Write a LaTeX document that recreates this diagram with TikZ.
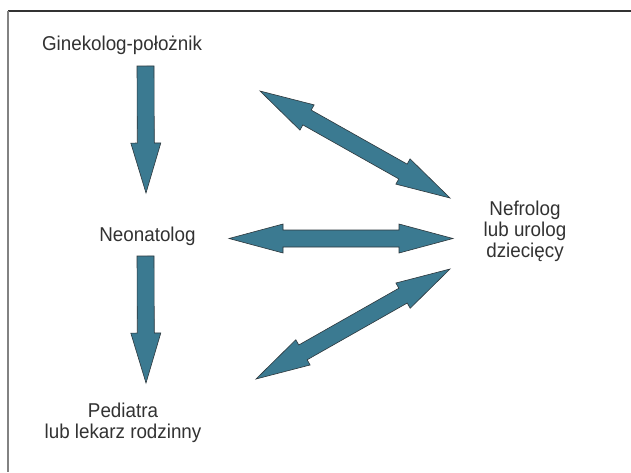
\documentclass[tikz,border=0pt]{standalone}
\usepackage{fontspec}
\setmainfont[FakeStretch=0.94]{Liberation Sans}
\usetikzlibrary{calc}
\definecolor{arrowfill}{RGB}{59,122,145}
\definecolor{arrowline}{RGB}{45,55,60}
\definecolor{txt}{RGB}{50,50,50}
\newcommand{\blkdouble}[2]{%
  \filldraw[blockarrow] (#1)
    -- ($(#1)!54pt!(#2)!14.5pt!90:(#2)$) -- ($(#1)!54pt!(#2)!8.5pt!90:(#2)$)
    -- ($(#2)!54pt!(#1)!8.5pt!-90:(#1)$) -- ($(#2)!54pt!(#1)!14.5pt!-90:(#1)$)
    -- (#2)
    -- ($(#2)!54pt!(#1)!14.5pt!90:(#1)$) -- ($(#2)!54pt!(#1)!8.5pt!90:(#1)$)
    -- ($(#1)!54pt!(#2)!8.5pt!-90:(#2)$) -- ($(#1)!54pt!(#2)!14.5pt!-90:(#2)$)
    -- cycle;}
\newcommand{\blksingle}[2]{%
  \filldraw[blockarrow] ($(#1)!8.5pt!90:(#2)$)
    -- ($(#2)!50pt!(#1)!8.5pt!-90:(#1)$) -- ($(#2)!50pt!(#1)!15pt!-90:(#1)$)
    -- (#2)
    -- ($(#2)!50pt!(#1)!15pt!90:(#1)$) -- ($(#2)!50pt!(#1)!8.5pt!90:(#1)$)
    -- ($(#1)!8.5pt!-90:(#2)$) -- cycle;}
\begin{document}
\begin{tikzpicture}[x=1pt,y=-1pt,
  blockarrow/.style={fill=arrowfill,draw=arrowline,line width=0.6pt,line join=miter},
  lbl/.style={text=txt,font=\fontsize{20}{21}\selectfont,align=center,inner sep=0pt}]
\useasboundingbox (0,0) rectangle (631,472);
\fill[white] (0,0) rectangle (631,472);
% frame
\draw[line width=1.2pt,color={rgb,255:red,50;green,50;blue,50}] (8,11) -- (631,11);
\draw[line width=1.6pt,color={rgb,255:red,130;green,130;blue,130}] (8,11) -- (8,472);
% labels
\node[lbl,anchor=base] (gin) at (122,50) {Ginekolog-położnik};
\node[lbl,anchor=base] (neo) at (147.5,241) {Neonatolog};
\node[lbl,anchor=base] (ped) at (123,438) {Pediatra\\lub lekarz rodzinny};
\node[lbl,anchor=base] (nef) at (525,257) {Nefrolog\\lub urolog\\dziecięcy};
% arrow end points
\coordinate (a1s) at (145.5,66);  \coordinate (a1e) at (146,193);
\coordinate (a2s) at (145.5,256); \coordinate (a2e) at (146,383);
\coordinate (hL) at (229,238.5);  \coordinate (hR) at (453,238.5);
\coordinate (uL) at (260,91);     \coordinate (uR) at (450,198);
\coordinate (lL) at (256,379);    \coordinate (lR) at (450,269);
\blksingle{a1s}{a1e}
\blksingle{a2s}{a2e}
\blkdouble{hL}{hR}
\blkdouble{uL}{uR}
\blkdouble{lL}{lR}
\end{tikzpicture}
\end{document}
